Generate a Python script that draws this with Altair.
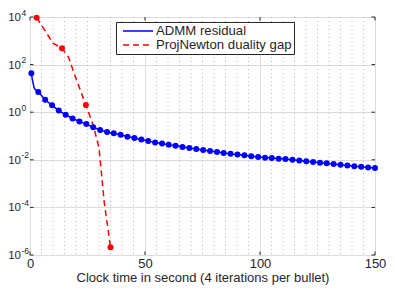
import altair as alt
import pandas as pd

FONT = "Liberation Sans"
TXT = "#262626"

# ---- data ----
series_names = ["ADMM residual", "ProjNewton duality gap"]

# ADMM residual: bullets (every 4 iterations)
blue_t = [0.6, 3.6, 6.6, 9.6, 12.5, 15.5, 18.5, 21.5, 24.5, 27.5, 30.5, 33.5, 36.4,
          39.4, 42.4, 45.4, 48.4, 51.4, 54.4, 57.4, 60.3, 63.3, 66.3, 69.3, 72.3,
          75.3, 78.3, 81.3, 84.2, 87.2, 90.2, 93.2, 96.2, 99.2, 102.2, 105.1, 108.1,
          111.1, 114.1, 117.1, 120.1, 123.1, 126.1, 129.0, 132.0, 135.0, 138.0,
          141.0, 144.0, 147.0, 150.0]
blue_v = [43.7, 7.08, 3.31, 1.95, 1.17, 0.776, 0.550, 0.407, 0.316, 0.234, 0.178,
          0.148, 0.129, 0.112, 0.0933, 0.0832, 0.0708, 0.0617, 0.0537, 0.0479,
          0.0427, 0.0389, 0.0347, 0.0316, 0.0282, 0.0257, 0.0234, 0.0214, 0.0195,
          0.0178, 0.0166, 0.0155, 0.0141, 0.0132, 0.0123, 0.0120, 0.0112, 0.0107,
          0.0100, 0.00933, 0.00871, 0.00813, 0.00759, 0.00708, 0.00661, 0.00617,
          0.00575, 0.00537, 0.00513, 0.00479, 0.00457]
# intermediate iterations (no bullet)
blue_extra_t = [1.0, 1.8, 2.6]
blue_extra_v = [24.0, 10.5, 8.3]

# ProjNewton duality gap
red_t = [2.9, 13.9, 24.3, 35.0]
red_v = [9330.0, 490.0, 2.0, 2.14e-6]
red_extra_t = [6.5, 10.1, 16.8, 19.3, 21.8, 27.5, 30.0, 32.3]
red_extra_v = [2690.0, 776.0, 200.0, 39.8, 8.9, 0.282, 0.0316, 1.58e-4]

x_ticks = [0, 50, 100, 150]
x_minor = [5, 10, 15, 20, 25, 30, 35, 40, 45, 55, 60, 65, 70, 75, 80, 85, 90, 95,
           105, 110, 115, 120, 125, 130, 135, 140, 145]
y_ticks = [1e-6, 1e-4, 1e-2, 1, 1e2, 1e4]
y_exp = ["-6", "-4", "-2", "0", "2", "4"]
x_title = "Clock time in second (4 iterations per bullet)"

# ---- tables ----
rows = []
for t, v in zip(blue_t + blue_extra_t, blue_v + blue_extra_v):
    rows.append({"series": series_names[0], "t": t, "v": v})
for t, v in zip(red_t + red_extra_t, red_v + red_extra_v):
    rows.append({"series": series_names[1], "t": t, "v": v})
line_df = pd.DataFrame(rows).sort_values(["series", "t"])

brow = [{"series": series_names[0], "t": t, "v": v} for t, v in zip(blue_t, blue_v)]
brow += [{"series": series_names[1], "t": t, "v": v} for t, v in zip(red_t, red_v)]
bullet_df = pd.DataFrame(brow)

ytick_df = pd.DataFrame({"v": y_ticks, "e": y_exp})
xtick_df = pd.DataFrame({"t": x_ticks})
minor_df = pd.DataFrame({"t": x_minor})

W, H = 345, 238
TL = 3.5

xs = alt.Scale(domain=[0, 150], nice=False, zero=False)
ys = alt.Scale(type="log", domain=[1e-6, 1e4], nice=False)
cscale = alt.Scale(domain=series_names, range=["#0000ff", "#ff0000"])
dscale = alt.Scale(domain=series_names, range=[[1, 0], [6, 4]])

x_axis = alt.Axis(values=x_ticks, title=x_title, grid=True, gridColor="#dcdcdc",
                  ticks=False, domain=False, labelFontSize=13, labelFont=FONT,
                  labelColor=TXT, labelPadding=2, titleFontSize=13, titleFont=FONT,
                  titleFontWeight="normal", titleColor=TXT, titlePadding=1,
                  labelFlush=False)
y_axis = alt.Axis(values=y_ticks, labels=False, ticks=False, domain=False,
                  grid=True, gridColor="#dcdcdc", title="")

X = lambda f: alt.X(f, scale=xs, axis=x_axis)
Y = lambda f: alt.Y(f, scale=ys, axis=y_axis)

leg = alt.Legend(title=None, orient="none", legendX=86, legendY=5,
                 direction="vertical", fillColor="white", strokeColor=TXT,
                 padding=2, symbolType="stroke", symbolSize=900,
                 symbolStrokeWidth=1.5, symbolOffset=4, labelFontSize=13.2,
                 labelFont=FONT, labelColor=TXT, labelOffset=2, clipHeight=14,
                 rowPadding=0, labelLimit=300)

minor = alt.Chart(minor_df).mark_rule(strokeDash=[1, 3], color="#b8b8b8",
                                      strokeWidth=1).encode(x=X("t:Q"))

lines = alt.Chart(line_df).mark_line(strokeWidth=1.5, clip=True).encode(
    x=X("t:Q"), y=Y("v:Q"),
    color=alt.Color("series:N", scale=cscale, legend=leg),
    strokeDash=alt.StrokeDash("series:N", scale=dscale, legend=leg),
    order=alt.Order("t:Q"),
)

points = alt.Chart(bullet_df).mark_circle(size=36, opacity=1).encode(
    x=X("t:Q"), y=Y("v:Q"),
    color=alt.Color("series:N", scale=cscale, legend=None),
)

ytl = alt.Chart(ytick_df).mark_rule(color=TXT).encode(
    y=Y("v:Q"), x=alt.value(0), x2=alt.value(TL))
ytr = alt.Chart(ytick_df).mark_rule(color=TXT).encode(
    y=Y("v:Q"), x=alt.value(W - TL), x2=alt.value(W))
xtb = alt.Chart(xtick_df).mark_rule(color=TXT).encode(
    x=X("t:Q"), y=alt.value(H), y2=alt.value(H - TL))
xtt = alt.Chart(xtick_df).mark_rule(color=TXT).encode(
    x=X("t:Q"), y=alt.value(0), y2=alt.value(TL))

ybase = alt.Chart(ytick_df).mark_text(align="right", baseline="middle", fontSize=11.5,
                                      font=FONT, color=TXT, dy=1).encode(
    x=alt.value(-9), y=Y("v:Q"), text=alt.value("10"))
yexp = alt.Chart(ytick_df).mark_text(align="left", baseline="middle", fontSize=8.5,
                                     font=FONT, color=TXT, dy=-4.5).encode(
    x=alt.value(-8.5), y=Y("v:Q"), text="e:N")

chart = alt.layer(minor, ytl, ytr, xtb, xtt, lines, points, ybase, yexp).properties(
    width=W, height=H,
    autosize=alt.AutoSizeParams(type="none"),
    padding={"left": 22, "top": 9, "right": 12, "bottom": 33},
).configure_view(stroke=TXT, strokeWidth=1).configure(font=FONT)

chart.save("out.html", embed_options={"renderer": "svg", "actions": False})
